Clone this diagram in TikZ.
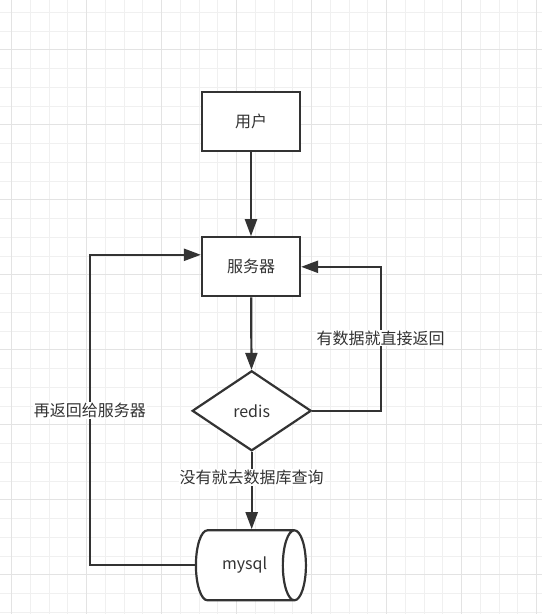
\documentclass[tikz,border=0pt]{standalone}
\usepackage{fontspec}
\setmainfont{Noto Sans CJK SC}
\usetikzlibrary{positioning,shapes.geometric,arrows.meta}
\definecolor{ink}{HTML}{333333}
\definecolor{gridminor}{HTML}{F0F0F0}
\definecolor{gridmajor}{HTML}{E3E3E3}

\begin{document}
\begin{tikzpicture}
[
    x = 1pt, y = -1pt,
    font = \fontsize{16}{19}\selectfont,
    text = ink,
    minor line/.style = {gridminor, line width = 1pt},
    major line/.style = {gridmajor, line width = 1pt},
    box/.style = {draw = ink, line width = 2.2pt, fill = white, minimum width = 98pt, minimum height = 59pt, inner sep = 0pt},
    choice/.style = {diamond, draw = ink, line width = 2.2pt, fill = white, minimum width = 119pt, minimum height = 80pt, inner sep = 0pt},
    store/.style = {cylinder, draw = ink, line width = 2.2pt, fill = white, minimum width = 70pt, minimum height = 110pt, aspect = 1.4, inner sep = 0pt},
    arrow/.style = {draw = ink, line width = 2.2pt, -{Triangle[length = 17pt, width = 12pt]}},
    note/.style = {fill = white, inner sep = 1pt},
]
\fill[white] (0,0) rectangle (542,614);
\useasboundingbox (0,0) rectangle (542,614);

\foreach \k in {0,...,28}
    \draw[minor line] ({11.7 + 18.75*\k}, 0) -- ++(0, 614);
\foreach \k in {0,...,32}
    \draw[minor line] (0, {12.3 + 18.75*\k}) -- ++(542, 0);
\foreach \k in {0,...,7}
    \draw[major line] ({11.7 + 75*\k}, 0) -- ++(0, 614);
\foreach \k in {0,...,7}
    \draw[major line] (0, {49.8 + 75*\k}) -- ++(542, 0);

\node[box] (user) at (251, 121.5) {用户};
\node[box] (server) at (251, 266.8) {服务器};
\node[choice] (redis) at (251.7, 410.8) {redis};
\node[store] (db) at (244.6, 565.3) {mysql};

\coordinate (hit) at (380.7, 338);
\coordinate (back) at (90, 410.7);

\draw[arrow] (user) -- (server);
\draw[arrow] (server) -- (redis);
\draw[arrow] (redis.east) -| (hit) node[note] {有数据就直接返回} |- (server.east);
\draw[arrow] (redis) -- node[note, pos = 0.33] {没有就去数据库查询} (redis |- db.north);
\draw[arrow] (db.west) -| (back) node[note] {再返回给服务器} |- ([yshift = 12pt]server.west);
\end{tikzpicture}
\end{document}
